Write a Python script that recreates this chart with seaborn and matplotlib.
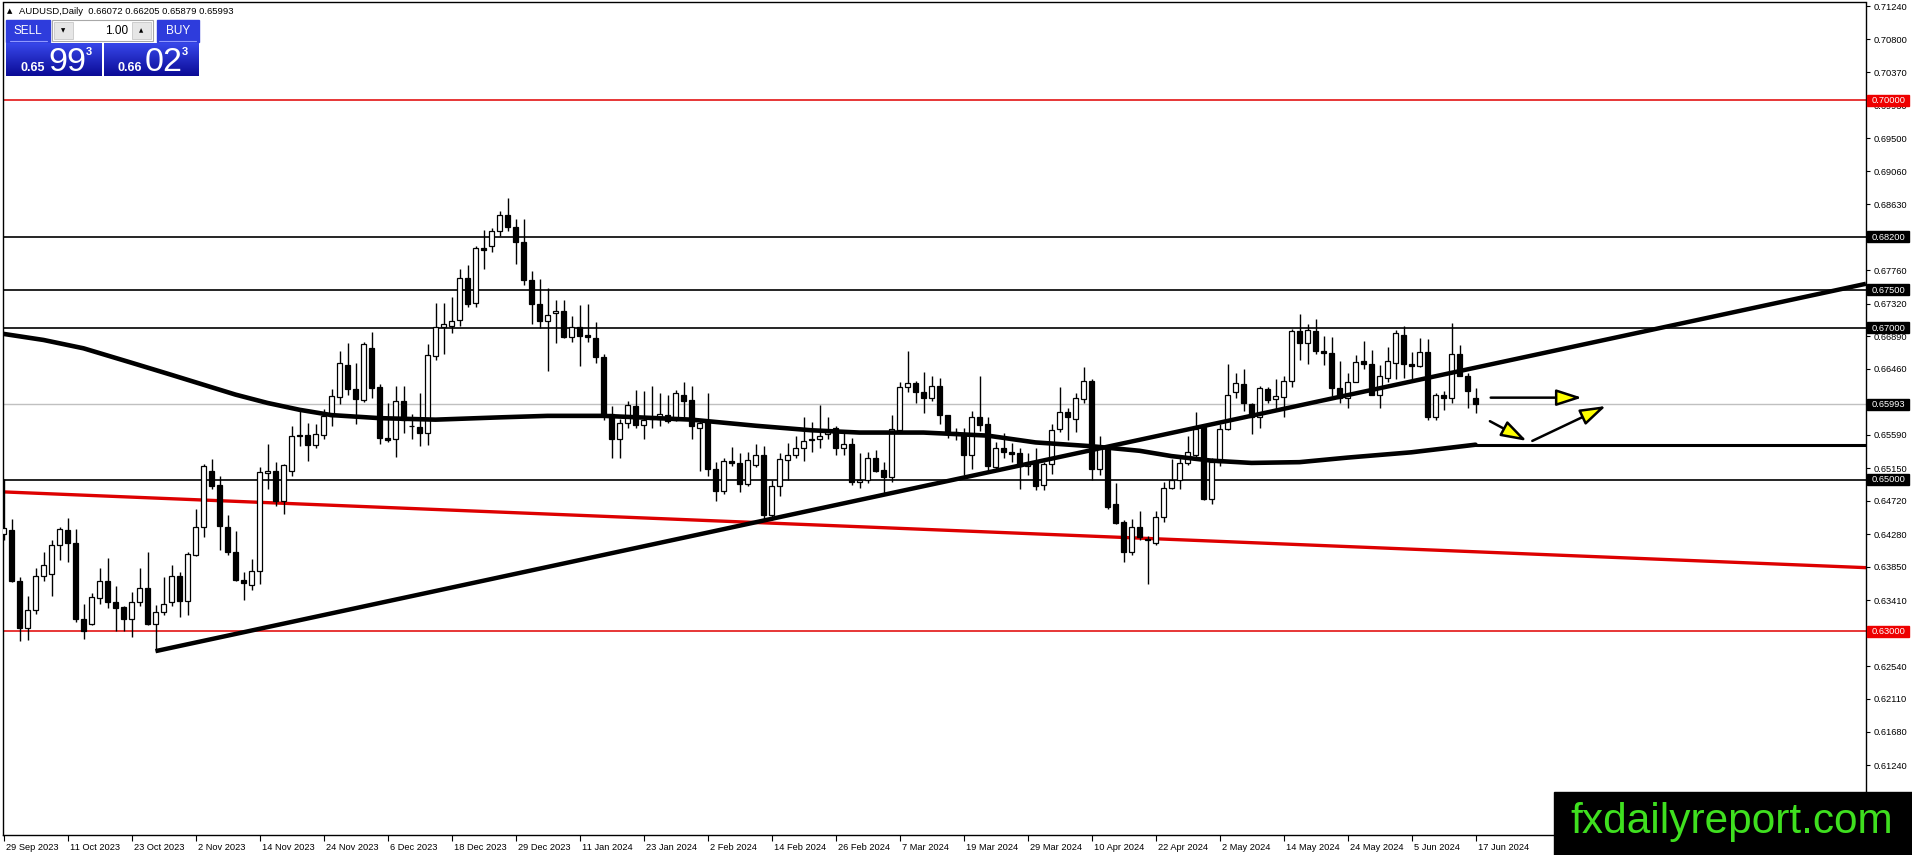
import numpy as np
import matplotlib
matplotlib.use('Agg')
import matplotlib.pyplot as plt
from matplotlib.patches import Rectangle
from matplotlib.colors import LinearSegmentedColormap
from matplotlib.transforms import ScaledTranslation
import seaborn as sns

sns.set_theme(style='white')
plt.rcParams['font.family'] = ['Liberation Sans', 'DejaVu Sans']

# --- daily candles AUDUSD, 29 Sep 2023 -> 17 Jun 2024 ---
opens = [0.6429, 0.6433, 0.6366, 0.6304, 0.6328, 0.6373, 0.6375, 0.6414, 0.6434, 0.6416,
         0.6316, 0.6310, 0.6344, 0.6367, 0.6339, 0.6332, 0.6316, 0.6339, 0.6357, 0.6310,
         0.6325, 0.6339, 0.6373, 0.6340, 0.6401, 0.6437, 0.6512, 0.6493, 0.6437, 0.6404,
         0.6368, 0.6361, 0.6379, 0.6509, 0.6511, 0.6472, 0.6511, 0.6559, 0.6559, 0.6545,
         0.6559, 0.6584, 0.6609, 0.6651, 0.6620, 0.6605, 0.6674, 0.6622, 0.6555, 0.6553,
         0.6604, 0.6570, 0.6569, 0.6562, 0.6663, 0.6701, 0.6703, 0.6710, 0.6765, 0.6733,
         0.6805, 0.6808, 0.6828, 0.6848, 0.6833, 0.6813, 0.6763, 0.6732, 0.6709, 0.6719,
         0.6722, 0.6688, 0.6701, 0.6690, 0.6687, 0.6662, 0.6586, 0.6554, 0.6575, 0.6597,
         0.6572, 0.6580, 0.6580, 0.6585, 0.6579, 0.6612, 0.6605, 0.6568, 0.6576, 0.6514,
         0.6485, 0.6525, 0.6522, 0.6494, 0.6519, 0.6532, 0.6454, 0.6492, 0.6526, 0.6533,
         0.6542, 0.6552, 0.6554, 0.6560, 0.6568, 0.6542, 0.6547, 0.6497, 0.6500, 0.6529,
         0.6513, 0.6503, 0.6566, 0.6622, 0.6627, 0.6615, 0.6608, 0.6623, 0.6585, 0.6563,
         0.6561, 0.6533, 0.6583, 0.6573, 0.6516, 0.6542, 0.6536, 0.6535, 0.6518, 0.6523,
         0.6493, 0.6520, 0.6567, 0.6589, 0.6580, 0.6606, 0.6630, 0.6514, 0.6540, 0.6468,
         0.6444, 0.6404, 0.6437, 0.6422, 0.6416, 0.6451, 0.6489, 0.6500, 0.6522, 0.6533,
         0.6570, 0.6475, 0.6523, 0.6567, 0.6615, 0.6626, 0.6599, 0.6582, 0.6620, 0.6606,
         0.6609, 0.6630, 0.6696, 0.6680, 0.6696, 0.6669, 0.6667, 0.6621, 0.6608, 0.6629,
         0.6656, 0.6652, 0.6612, 0.6634, 0.6654, 0.6691, 0.6652, 0.6650, 0.6668, 0.6582,
         0.6611, 0.6608, 0.6665, 0.6637, 0.66072]
highs = [0.6501, 0.6448, 0.6372, 0.6347, 0.6383, 0.6404, 0.6420, 0.6437, 0.6449, 0.6435,
         0.6336, 0.6350, 0.6383, 0.6397, 0.6360, 0.6334, 0.6352, 0.6383, 0.6404, 0.6335,
         0.6372, 0.6388, 0.6378, 0.6404, 0.6461, 0.6521, 0.6527, 0.6505, 0.6453, 0.6432,
         0.6378, 0.6395, 0.6516, 0.6547, 0.6523, 0.6521, 0.6570, 0.6592, 0.6575, 0.6573,
         0.6593, 0.6619, 0.6670, 0.6680, 0.6654, 0.6681, 0.6695, 0.6626, 0.6601, 0.6624,
         0.6624, 0.6587, 0.6614, 0.6679, 0.6733, 0.6733, 0.6740, 0.6778, 0.6783, 0.6808,
         0.6829, 0.6831, 0.6854, 0.6871, 0.6843, 0.6843, 0.6775, 0.6764, 0.6752, 0.6737,
         0.6737, 0.6716, 0.6730, 0.6732, 0.6708, 0.6665, 0.6597, 0.6580, 0.6604, 0.6618,
         0.6617, 0.6624, 0.6614, 0.6612, 0.6618, 0.6629, 0.6624, 0.6580, 0.6614, 0.6523,
         0.6528, 0.6543, 0.6535, 0.6536, 0.6547, 0.6544, 0.6500, 0.6535, 0.6548, 0.6557,
         0.6582, 0.6576, 0.6598, 0.6583, 0.6571, 0.6562, 0.6555, 0.6535, 0.6536, 0.6539,
         0.6523, 0.6585, 0.6629, 0.6669, 0.6630, 0.6642, 0.6637, 0.6634, 0.6585, 0.6568,
         0.6568, 0.6590, 0.6637, 0.6582, 0.6550, 0.6562, 0.6548, 0.6541, 0.6535, 0.6542,
         0.6523, 0.6573, 0.6622, 0.6595, 0.6614, 0.6648, 0.6633, 0.6558, 0.6544, 0.6496,
         0.6447, 0.6448, 0.6459, 0.6426, 0.6459, 0.6497, 0.6527, 0.6531, 0.6557, 0.6589,
         0.6573, 0.6529, 0.6573, 0.6652, 0.6641, 0.6646, 0.6601, 0.6624, 0.6622, 0.6632,
         0.6636, 0.6698, 0.6718, 0.6705, 0.6712, 0.6689, 0.6688, 0.6656, 0.6640, 0.6664,
         0.6683, 0.6671, 0.6651, 0.6675, 0.6697, 0.6702, 0.6668, 0.6687, 0.6685, 0.6614,
         0.6617, 0.6707, 0.6678, 0.6641, 0.66205]
lows = [0.6420, 0.6365, 0.6288, 0.6289, 0.6323, 0.6367, 0.6347, 0.6394, 0.6391, 0.6312,
        0.6290, 0.6308, 0.6336, 0.6331, 0.6301, 0.6301, 0.6293, 0.6334, 0.6309, 0.6274,
        0.6322, 0.6334, 0.6319, 0.6321, 0.6400, 0.6424, 0.6488, 0.6407, 0.6401, 0.6367,
        0.6342, 0.6354, 0.6363, 0.6487, 0.6465, 0.6455, 0.6505, 0.6544, 0.6525, 0.6541,
        0.6553, 0.6570, 0.6600, 0.6611, 0.6573, 0.6602, 0.6608, 0.6547, 0.6550, 0.6530,
        0.6562, 0.6553, 0.6544, 0.6546, 0.6658, 0.6666, 0.6693, 0.6703, 0.6728, 0.6728,
        0.6777, 0.6800, 0.6821, 0.6828, 0.6784, 0.6757, 0.6705, 0.6700, 0.6643, 0.6680,
        0.6686, 0.6681, 0.6650, 0.6681, 0.6653, 0.6579, 0.6528, 0.6529, 0.6568, 0.6568,
        0.6554, 0.6568, 0.6570, 0.6574, 0.6577, 0.6579, 0.6554, 0.6511, 0.6505, 0.6472,
        0.6481, 0.6518, 0.6484, 0.6491, 0.6516, 0.6447, 0.6447, 0.6479, 0.6500, 0.6529,
        0.6525, 0.6536, 0.6542, 0.6554, 0.6533, 0.6533, 0.6493, 0.6489, 0.6495, 0.6510,
        0.6482, 0.6497, 0.6564, 0.6615, 0.6601, 0.6588, 0.6604, 0.6573, 0.6555, 0.6552,
        0.6506, 0.6514, 0.6564, 0.6511, 0.6514, 0.6529, 0.6523, 0.6488, 0.6506, 0.6486,
        0.6486, 0.6507, 0.6563, 0.6552, 0.6563, 0.6601, 0.6500, 0.6506, 0.6461, 0.6441,
        0.6392, 0.6401, 0.6421, 0.6362, 0.6414, 0.6444, 0.6487, 0.6487, 0.6519, 0.6529,
        0.6473, 0.6468, 0.6518, 0.6566, 0.6608, 0.6590, 0.6560, 0.6568, 0.6601, 0.6592,
        0.6583, 0.6622, 0.6658, 0.6652, 0.6666, 0.6651, 0.6610, 0.6601, 0.6595, 0.6628,
        0.6646, 0.6611, 0.6594, 0.6629, 0.6633, 0.6634, 0.6631, 0.6648, 0.6579, 0.6579,
        0.6592, 0.6601, 0.6636, 0.6595, 0.65879]
closes = [0.6436, 0.6366, 0.6304, 0.6328, 0.6373, 0.6388, 0.6414, 0.6435, 0.6416, 0.6316,
          0.6300, 0.6345, 0.6367, 0.6339, 0.6331, 0.6316, 0.6339, 0.6357, 0.6310, 0.6325,
          0.6336, 0.6373, 0.6340, 0.6402, 0.6437, 0.6518, 0.6491, 0.6439, 0.6404, 0.6368,
          0.6364, 0.6379, 0.6510, 0.6511, 0.6472, 0.6519, 0.6558, 0.6558, 0.6545, 0.6560,
          0.6584, 0.6610, 0.6653, 0.6620, 0.6606, 0.6679, 0.6621, 0.6555, 0.6552, 0.6604,
          0.6579, 0.6571, 0.6562, 0.6664, 0.6701, 0.6705, 0.6709, 0.6765, 0.6732, 0.6805,
          0.6802, 0.6827, 0.6849, 0.6833, 0.6813, 0.6763, 0.6731, 0.6709, 0.6717, 0.6722,
          0.6688, 0.6701, 0.6689, 0.6688, 0.6662, 0.6585, 0.6554, 0.6575, 0.6598, 0.6572,
          0.6579, 0.6582, 0.6586, 0.6577, 0.6614, 0.6604, 0.6570, 0.6574, 0.6514, 0.6485,
          0.6525, 0.6522, 0.6494, 0.6526, 0.6532, 0.6454, 0.6492, 0.6527, 0.6533, 0.6542,
          0.6551, 0.6554, 0.6558, 0.6563, 0.6542, 0.6547, 0.6497, 0.6500, 0.6528, 0.6511,
          0.6503, 0.6567, 0.6622, 0.6627, 0.6615, 0.6608, 0.6623, 0.6585, 0.6563, 0.6560,
          0.6533, 0.6583, 0.6572, 0.6518, 0.6541, 0.6536, 0.6534, 0.6518, 0.6521, 0.6492,
          0.6520, 0.6565, 0.6589, 0.6582, 0.6607, 0.6630, 0.6514, 0.6543, 0.6464, 0.6443,
          0.6404, 0.6437, 0.6424, 0.6421, 0.6451, 0.6489, 0.6500, 0.6522, 0.6536, 0.6567,
          0.6474, 0.6523, 0.6567, 0.6611, 0.6627, 0.6601, 0.6582, 0.6621, 0.6605, 0.6610,
          0.6630, 0.6696, 0.6680, 0.6697, 0.6669, 0.6667, 0.6621, 0.6608, 0.6629, 0.6655,
          0.6652, 0.6612, 0.6636, 0.6656, 0.6693, 0.6652, 0.6650, 0.6668, 0.6582, 0.6611,
          0.6608, 0.6665, 0.6637, 0.6617, 0.65993]

date_labels = ['29 Sep 2023', '11 Oct 2023', '23 Oct 2023', '2 Nov 2023', '14 Nov 2023',
               '24 Nov 2023', '6 Dec 2023', '18 Dec 2023', '29 Dec 2023', '11 Jan 2024',
               '23 Jan 2024', '2 Feb 2024', '14 Feb 2024', '26 Feb 2024', '7 Mar 2024',
               '19 Mar 2024', '29 Mar 2024', '10 Apr 2024', '22 Apr 2024', '2 May 2024',
               '14 May 2024', '24 May 2024', '5 Jun 2024', '17 Jun 2024']

# moving average, sampled along the curve (bar index, price)
ma_idx = [0, 5, 10, 16, 21, 25, 29, 33, 37, 41, 47, 54, 62, 68, 75, 86, 90, 94, 101, 107,
          115, 123, 129, 136, 142, 146, 151, 156, 162, 168, 176, 184]
ma_val = [0.6692, 0.6684, 0.6673, 0.6654, 0.6638, 0.6625, 0.6612, 0.6601, 0.6592, 0.6585,
          0.6581, 0.6579, 0.6582, 0.6584, 0.6584, 0.6579, 0.6575, 0.6571, 0.6565, 0.6562,
          0.6562, 0.6558, 0.6549, 0.6544, 0.6538, 0.6531, 0.6525, 0.6522, 0.6523, 0.6529,
          0.6536, 0.6546]

y_ticks = [0.71240, 0.70800, 0.70370, 0.69930, 0.69500, 0.69060, 0.68630, 0.68200,
           0.67760, 0.67320, 0.66890, 0.66460, 0.66020, 0.65590, 0.65150, 0.64720,
           0.64280, 0.63850, 0.63410, 0.62970, 0.62540, 0.62110, 0.61680, 0.61240]

black_levels = [0.68200, 0.67500, 0.67000, 0.65000]
red_levels = [0.70000, 0.63000]
bid_price = 0.65993
ma_flat_level = 0.6546

trend_x = [19, 232.8]
trend_y = [0.6274, 0.6758]
red_trend_x = [-0.45, 232.8]
red_trend_y = [0.6484, 0.6384]

# yellow arrows (start, end) in (bar, price)
arrows = [((185.9, 0.6608), (197.3, 0.6608)),
          ((185.8, 0.6577), (190.4, 0.6551)),
          ((191.1, 0.6551), (200.3, 0.6597))]

W, H = 1912, 855
fig = plt.figure(figsize=(W / 100, H / 100), dpi=100)
fig.patch.set_facecolor('white')

left_px, right_px, top_px, bot_px = 2.5, 1866, 2.5, 835
ax = fig.add_axes([left_px / W, 1 - bot_px / H, (right_px - left_px) / W, (bot_px - top_px) / H])
ax.set_facecolor('white')

n = len(opens)
idx = np.arange(n)
o = np.array(opens)
c = np.array(closes)

# horizontal levels
for lv in black_levels:
    ax.axhline(lv, color='black', lw=1.2, zorder=1)
for lv in red_levels:
    ax.axhline(lv, color='#e00000', lw=1.1, zorder=1)
ax.axhline(bid_price, color='#c0c0c0', lw=1.0, zorder=1)

# candles
ax.vlines(idx, lows, highs, color='black', lw=1.0, zorder=3)
body_h = np.maximum(np.abs(c - o), 0.00005)
body_b = np.minimum(o, c)
colors = ['white' if cc >= oo else 'black' for oo, cc in zip(o, c)]
ax.bar(idx, body_h, bottom=body_b, width=0.55, color=colors, edgecolor='black',
       linewidth=0.9, zorder=4)

# moving average + its flat extension
sns.lineplot(x=ma_idx, y=ma_val, ax=ax, color='black', lw=3.3, zorder=5)
ax.plot([ma_idx[-1], 240], [ma_flat_level, ma_flat_level], color='black', lw=2.2, zorder=5)

# trend lines
ax.plot(trend_x, trend_y, color='black', lw=3.2, zorder=5, solid_capstyle='butt')
ax.plot(red_trend_x, red_trend_y, color='#dd0000', lw=2.4, zorder=2)

for (x0, y0), (x1, y1) in arrows:
    ax.annotate('', xy=(x1, y1), xytext=(x0, y0),
                arrowprops=dict(arrowstyle='-|>,head_length=1.3,head_width=0.42',
                                fc='#ffff00', ec='black', lw=1.8,
                                shrinkA=0, shrinkB=0), zorder=6)

ax.set_xlim(-0.125, 232.8125)
ax.set_ylim(0.7124 - 829 / 7590, 0.7124 + 3.5 / 7590)

for sp in ax.spines.values():
    sp.set_color('black')
    sp.set_linewidth(1.0)

# right price scale
ax.yaxis.tick_right()
ax.set_yticks(y_ticks)
ax.set_yticklabels([f'{v:.5f}' for v in y_ticks])
ax.tick_params(axis='y', direction='out', length=3, width=0.8, pad=2.5,
               labelsize=6.7, colors='black', left=False, right=True)

# bottom date scale
ax.set_xticks(np.arange(0, n, 8))
ax.set_xticklabels(date_labels, ha='left')
ax.tick_params(axis='x', direction='out', length=4, width=0.8, pad=1.5,
               labelsize=6.7, colors='black', bottom=True)
shift = ScaledTranslation(0.02, 0, fig.dpi_scale_trans)
for lbl in ax.get_xticklabels():
    lbl.set_transform(lbl.get_transform() + shift)
ax.set_xlabel('')
ax.set_ylabel('')

# overlay in pixel coordinates
oax = fig.add_axes([0, 0, 1, 1], zorder=10)
oax.set_xlim(0, W)
oax.set_ylim(H, 0)
oax.axis('off')
oax.patch.set_alpha(0)

def to_px(yval):
    return H - ax.transData.transform((0, yval))[1]

# highlighted price labels on the scale
for lv, bg in [(0.70000, '#ee0000'), (0.63000, '#ee0000'), (0.68200, 'black'),
               (0.67500, 'black'), (0.67000, 'black'), (0.65000, 'black'), (bid_price, 'black')]:
    yp = to_px(lv)
    oax.add_patch(Rectangle((1867.5, yp - 5.5), 41.5, 11, color=bg, zorder=2))
    oax.text(1871.5, yp + 0.3, f'{lv:.5f}', color='white', fontsize=6.7,
             va='center', ha='left', zorder=3)

# header line
oax.text(6.5, 11, '▲', fontsize=5, va='center', ha='left', color='black',
         family=['DejaVu Sans'])
oax.text(19, 11, 'AUDUSD,Daily  0.66072 0.66205 0.65879 0.65993', fontsize=6.8,
         va='center', ha='left', color='black')

# one-click trading panel
head_blue = '#2e3cdc'
oax.add_patch(Rectangle((6, 20), 44, 22, color=head_blue, zorder=2))
oax.add_patch(Rectangle((157, 20), 42, 22, color=head_blue, zorder=2))
oax.plot([10, 47], [41.5, 41.5], color='#8f98ff', lw=0.8, zorder=3)
oax.plot([159, 196], [41.5, 41.5], color='#8f98ff', lw=0.8, zorder=3)
oax.text(28, 31, 'SELL', color='white', fontsize=8.5, ha='center', va='center', zorder=3)
oax.text(178, 31, 'BUY', color='white', fontsize=8.5, ha='center', va='center', zorder=3)

oax.add_patch(Rectangle((52, 20), 101, 21, facecolor='white', edgecolor='#a8a8a8', lw=0.8, zorder=2))
oax.add_patch(Rectangle((54, 22), 19, 17, facecolor='#e6e6e6', edgecolor='#c8c8c8', lw=0.6, zorder=3))
oax.add_patch(Rectangle((132, 22), 19, 17, facecolor='#e6e6e6', edgecolor='#c8c8c8', lw=0.6, zorder=3))
oax.text(63.5, 30.5, '▼', fontsize=4, ha='center', va='center', color='black',
         family=['DejaVu Sans'], zorder=4)
oax.text(141.5, 30.5, '▲', fontsize=4, ha='center', va='center', color='black',
         family=['DejaVu Sans'], zorder=4)
oax.text(128, 30.5, '1.00', fontsize=8.5, ha='right', va='center', color='black', zorder=4)

blue_cmap = LinearSegmentedColormap.from_list('mt4blue', ['#3747ea', '#0b0b96'])
grad = np.linspace(0, 1, 64).reshape(-1, 1)
for x0, x1 in [(6, 102), (104, 199)]:
    oax.imshow(grad, extent=(x0, x1, 76, 43), cmap=blue_cmap, aspect='auto',
               origin='upper', zorder=2)
oax.text(21, 71, '0.65', color='white', fontsize=9, fontweight='bold', va='baseline', zorder=3)
oax.text(48, 71, '99', color='white', fontsize=24.5, va='baseline', zorder=3)
oax.text(86, 55, '3', color='white', fontsize=8, fontweight='bold', va='baseline', zorder=3)
oax.text(118, 71, '0.66', color='white', fontsize=9, fontweight='bold', va='baseline', zorder=3)
oax.text(145, 71, '02', color='white', fontsize=24.5, va='baseline', zorder=3)
oax.text(182, 55, '3', color='white', fontsize=8, fontweight='bold', va='baseline', zorder=3)

# watermark
oax.add_patch(Rectangle((1554, 792), W - 1554, H - 792, color='black', zorder=5))
oax.text(1570, 833, 'fxdailyreport.com', color='#3fe01f', fontsize=30.5,
         va='baseline', ha='left', zorder=6)

oax.set_xlim(0, W)
oax.set_ylim(H, 0)

fig.savefig('out.png', dpi=100)
